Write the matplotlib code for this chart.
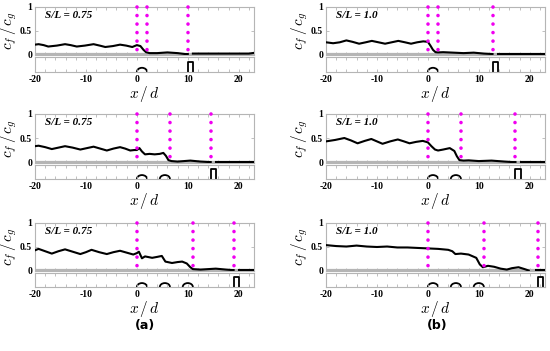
import numpy as np
import matplotlib
matplotlib.use('Agg')
import matplotlib.pyplot as plt
from matplotlib.patches import Arc
from matplotlib.ticker import AutoMinorLocator

plt.rcParams['mathtext.fontset'] = 'cm'

# ---- data ----
x_ticks = [-20, -10, 0, 10, 20]
y_ticks = [0, 0.5, 1]
y_ticklabels = ['0', '0.5', '1']
ratio_labels = ['S/L = 0.75', 'S/L = 1.0']
panel_labels = ['(a)', '(b)']

# bump centres per row (bumps are 2 d wide)
bump_centres = [[1], [1, 5.5], [1, 5.5, 10]]
bump_ends = [2, 6.5, 11]
# start of the gauge (gate) per column / row
gate_a = [10, 14.5, 19]
gate_b = [12.7, 17.2, 21.7]

# S/L = 0.75 column
a1_x = [-20, -19.3, -18.3, -17.4, -15.7, -14.1, -13, -11.8, -10.2, -8.5, -7.3, -6.2, -4.7, -3.3,
        -2.1, -0.9, 0, 0.7, 1.3, 1.8, 2.5, 4, 6, 8, 9.5, 10]
a1_y = [0.20, 0.21, 0.19, 0.16, 0.18, 0.21, 0.19, 0.16, 0.18, 0.21, 0.18, 0.15, 0.17, 0.20,
        0.18, 0.15, 0.19, 0.17, 0.09, 0.04, 0.02, 0.02, 0.035, 0.02, 0.0, 0.0]
a1_dx = [11, 15, 20, 22, 23]
a1_dy = [0.01, 0.01, 0.01, 0.01, 0.025]

a2_x = [-20, -19.3, -18.0, -16.7, -15.4, -14.1, -12.6, -11.1, -9.8, -8.5, -7.2, -5.9, -4.6, -3.3,
        -2.3, -1.3, -0.5, 0, 0.5, 1.0, 1.6, 2.5, 3.5, 4.5, 5.2, 5.7, 6.2, 6.8, 8, 10.5, 12.5, 14.2, 14.5]
a2_y = [0.33, 0.34, 0.31, 0.27, 0.30, 0.33, 0.30, 0.26, 0.29, 0.32, 0.28, 0.24, 0.28, 0.31,
        0.28, 0.24, 0.25, 0.25, 0.29, 0.22, 0.16, 0.17, 0.16, 0.17, 0.19, 0.13, 0.04, 0.02, 0.01, 0.03, 0.01, 0.0, 0.0]
a2_dx = [15.5, 23]
a2_dy = [0.01, 0.01]

a3_x = [-20, -19.3, -18.0, -16.7, -15.4, -14.1, -12.6, -11.1, -10.0, -8.9, -7.4, -5.9, -4.6, -3.3,
        -2.0, -0.7, 0, 0.4, 1.0, 1.6, 3.0, 4.0, 4.9, 5.6, 6.9, 8.0, 8.9, 9.8, 10.5, 11.0, 12.5,
        15.5, 17.5, 18.7, 19]
a3_y = [0.42, 0.45, 0.40, 0.35, 0.40, 0.44, 0.39, 0.34, 0.38, 0.43, 0.38, 0.34, 0.38, 0.41,
        0.37, 0.33, 0.36, 0.39, 0.25, 0.29, 0.26, 0.28, 0.30, 0.18, 0.15, 0.17, 0.18, 0.14, 0.06,
        0.02, 0.01, 0.03, 0.01, 0.0, 0.0]
a3_dx = [20, 23]
a3_dy = [0.01, 0.01]

# S/L = 1.0 column
b1_x = [-20, -18.6, -17.3, -16.0, -14.8, -13.5, -12.2, -11.0, -9.7, -8.4, -7.1, -5.8, -4.5, -3.3,
        -2.1, -0.9, 0, 0.5, 1, 1.5, 2, 3, 5, 7, 9, 11, 12.7]
b1_y = [0.25, 0.23, 0.25, 0.29, 0.26, 0.22, 0.25, 0.28, 0.25, 0.22, 0.25, 0.28, 0.25, 0.22,
        0.25, 0.27, 0.26, 0.18, 0.09, 0.04, 0.035, 0.04, 0.03, 0.02, 0.03, 0.01, 0.0]
b1_dx = [13.7, 23]
b1_dy = [0.01, 0.01]

b2_x = [-20, -18.2, -16.4, -15.1, -13.8, -12.4, -11.1, -10.0, -8.9, -7.4, -5.9, -4.7, -3.6, -2.3,
        -1.0, 0, 0.7, 1.4, 2, 3, 4.3, 5.2, 5.7, 6.2, 7, 8, 10, 12.5, 15, 16.5, 17.2]
b2_y = [0.43, 0.46, 0.50, 0.45, 0.39, 0.44, 0.48, 0.43, 0.38, 0.43, 0.47, 0.43, 0.39, 0.42,
        0.44, 0.41, 0.33, 0.26, 0.24, 0.26, 0.29, 0.23, 0.12, 0.04, 0.03, 0.035, 0.02, 0.03, 0.01, 0.0, 0.0]
b2_dx = [18.2, 23]
b2_dy = [0.01, 0.01]

b3_x = [-20, -18, -16, -14, -12, -10, -8, -6, -4, -2, 0, 2, 4, 4.8, 5.4, 6.5, 8, 9.5, 10.2,
        10.8, 11.8, 13, 14.3, 15.5, 16.5, 17.8, 19, 19.8]
b3_y = [0.53, 0.51, 0.50, 0.52, 0.50, 0.49, 0.50, 0.48, 0.48, 0.47, 0.46, 0.45, 0.43, 0.40, 0.34,
        0.35, 0.33, 0.26, 0.12, 0.06, 0.09, 0.07, 0.03, 0.01, 0.04, 0.06, 0.02, -0.01]
b3_dx = [21.3, 23]
b3_dy = [0.01, 0.01]

curves = [[(a1_x, a1_y, a1_dx, a1_dy), (a2_x, a2_y, a2_dx, a2_dy), (a3_x, a3_y, a3_dx, a3_dy)],
          [(b1_x, b1_y, b1_dx, b1_dy), (b2_x, b2_y, b2_dx, b2_dy), (b3_x, b3_y, b3_dx, b3_dy)]]
gates = [gate_a, gate_b]

# ---- layout (figure fractions) ----
W, H = 550, 351
col_left = [35, 326]
ax_w = 219
rows = [(7, 55, 57, 72), (114, 163, 165, 179), (223, 271, 273, 287)]

frame_col = '#b5b5b5'
magenta = '#f000f0'
tick_font = dict(family='Liberation Serif', weight='bold', size=7)

fig = plt.figure(figsize=(W / 100, H / 100), dpi=100)


def style_axis(ax):
    for s in ax.spines.values():
        s.set_color(frame_col)
        s.set_linewidth(0.8)
    ax.tick_params(which='both', direction='in', color=frame_col, top=True, right=True,
                   length=2, width=0.6, pad=2)
    ax.xaxis.set_minor_locator(AutoMinorLocator(5))


for c in range(2):
    for r in range(3):
        top, bot, s_top, s_bot = rows[r]
        x0 = col_left[c] / W
        ax = fig.add_axes([x0, 1 - bot / H, ax_w / W, (bot - top) / H])
        axs = fig.add_axes([x0, 1 - s_bot / H, ax_w / W, (s_bot - s_top) / H])

        ux, uy, dx, dy = curves[c][r]
        gate = gates[c][r]

        # upper: skin friction ratio
        ax.axhline(0, color=frame_col, lw=1.6, zorder=1)
        ax.plot(ux, uy, color='black', lw=1.5, zorder=3)
        ax.plot(dx, dy, color='black', lw=1.5, zorder=3)
        for xv in [0, bump_ends[r], gate]:
            ax.plot([xv, xv], [1.0, 0.0], color=magenta, lw=2.6, linestyle=(0, (0.01, 2.35)),
                    dash_capstyle='round', zorder=4, clip_on=False)
        ax.set_xlim(-20, 23)
        ax.set_ylim(-0.02, 1.0)
        ax.set_yticks(y_ticks)
        ax.set_yticklabels(y_ticklabels, fontdict=tick_font)
        ax.set_xticks(x_ticks)
        ax.set_xticklabels([])
        style_axis(ax)
        ax.text(-18.0, 0.82, ratio_labels[c], family='Liberation Serif', weight='bold',
                style='italic', size=8, va='center')
        ax.set_ylabel(r'$c_f\,/\,c_g$', fontsize=11, labelpad=1)
        ax.yaxis.set_label_coords(-0.072, 0.5)

        # lower strip: bumps and gauge
        for bc in bump_centres[r]:
            axs.add_patch(Arc((bc, 0), 2.0, 0.56, theta1=0, theta2=180, color='black', lw=1.3))
        axs.plot([gate, gate, gate + 1, gate + 1], [0, 0.68, 0.68, 0], color='black', lw=1.3)
        axs.set_xlim(-20, 23)
        axs.set_ylim(0, 1)
        axs.set_yticks([])
        axs.set_xticks(x_ticks)
        axs.set_xticklabels([str(v) for v in x_ticks], fontdict=tick_font)
        style_axis(axs)
        axs.tick_params(axis='y', which='both', left=False, right=False)
        axs.set_xlabel(r'$x\,/\,d$', fontsize=11, labelpad=0)

fig.text(145 / W, 1 - 325 / H, panel_labels[0], ha='center', va='center', fontsize=9,
         family='DejaVu Sans', weight='bold')
fig.text(437 / W, 1 - 325 / H, panel_labels[1], ha='center', va='center', fontsize=9,
         family='DejaVu Sans', weight='bold')

fig.savefig('out.png', dpi=100)
